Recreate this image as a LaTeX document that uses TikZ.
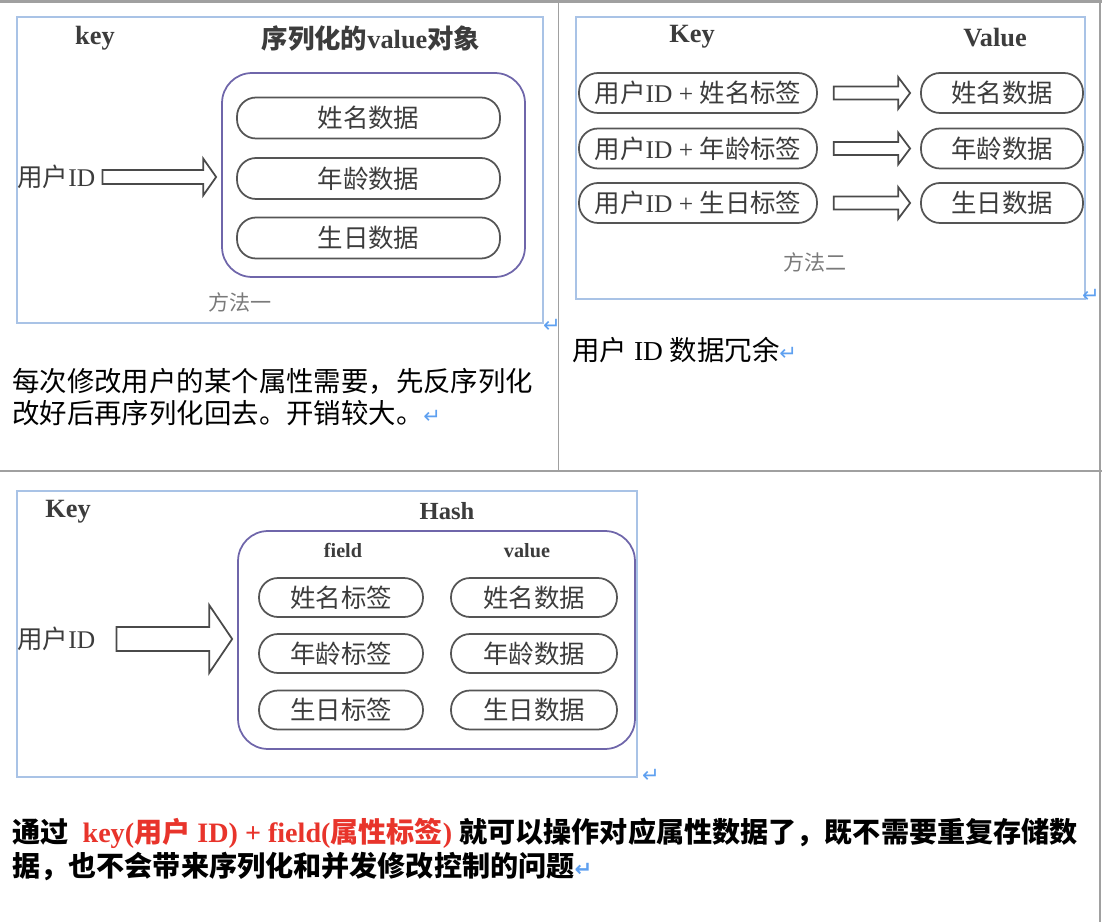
\documentclass[tikz,border=0pt]{standalone}
\usepackage{fontspec}
\setmainfont{Liberation Serif}
\newfontfamily\cjk{Noto Sans CJK SC}
\newfontfamily\symfont{DejaVu Sans}
\usetikzlibrary{calc}

\definecolor{framecol}{HTML}{A9C3E6}
\definecolor{boxcol}{HTML}{6F66AA}
\definecolor{pillcol}{HTML}{555555}
\definecolor{labelcol}{HTML}{3C3C3C}
\definecolor{captioncol}{HTML}{7A7A7A}
\definecolor{arrowcol}{HTML}{4A4A4A}
\definecolor{tablecol}{HTML}{A0A0A0}
\definecolor{retcol}{HTML}{5EA0F0}
\definecolor{redcol}{HTML}{E8342B}

\newcommand{\zh}[1]{{\cjk #1}}
\newcommand{\retmark}{{\symfont\color{retcol}\fontsize{12}{12}\selectfont ↵}}

% hollow block arrow: start, tip, shaft half, head half, head length
\newcommand{\fatarrow}[5]{%
  \draw[arrowline] ($(#1)+(0,-#3)$) -- ($(#1 -| #2)+(-#5,-#3)$)
    -- ($(#1 -| #2)+(-#5,-#4)$) -- (#1 -| #2) -- ($(#1 -| #2)+(-#5,#4)$)
    -- ($(#1 -| #2)+(-#5,#3)$) -- ($(#1)+(0,#3)$) -- cycle;
}

\tikzset{
  tableline/.style={draw=tablecol, line width=1.2pt},
  frame/.style={draw=framecol, line width=1.1pt},
  valbox/.style={draw=boxcol, line width=1pt, rounded corners=0.6cm},
  pill/.style={draw=pillcol, line width=1pt, rounded corners=0.38cm, inner sep=0pt,
    minimum height=0.82cm, text=labelcol, font=\fontsize{14.5}{14.5}\selectfont},
  heading/.style={text=labelcol, inner sep=0pt, font=\bfseries\fontsize{15}{15}\selectfont},
  subhead/.style={text=labelcol, inner sep=0pt, font=\bfseries\fontsize{11.5}{11.5}\selectfont},
  idlabel/.style={text=labelcol, inner sep=0pt, anchor=west, font=\fontsize{14.5}{14.5}\selectfont},
  caption/.style={text=captioncol, inner sep=0pt, font=\cjk\fontsize{12}{12}\selectfont},
  retnode/.style={text=retcol, inner sep=0pt, font=\symfont\fontsize{12}{12}\selectfont},
  body/.style={anchor=base west, inner sep=0pt, font=\fontsize{15.6}{18}\selectfont},
  boldbody/.style={body, font=\bfseries\fontsize{16}{18}\selectfont},
  arrowline/.style={draw=arrowcol, line width=1pt, fill=white, line join=miter}
}

\begin{document}
\begin{tikzpicture}[x=0.02cm, y=-0.02cm]
\useasboundingbox (0,0) rectangle (1102,922);

% Table rules
\draw[tableline] (0,1.5) -- (1102,1.5);
\draw[tableline, line width=0.9pt] (558.5,0) -- (558.5,471);
\draw[tableline, line width=1.7pt] (0,471) -- (1102,471);
\draw[tableline] (1100,0) -- (1100,922);

% ---------- Method one
\draw[frame] (17,17) rectangle (543,323);
\node[heading] (key1) at (95,38) {key};
\node[heading] (obj1) at (371,38) {\zh{序列化的}value\zh{对象}};
\node[valbox, minimum width=6.06cm, minimum height=4.08cm] (valbox1) at (373.5,175) {};
\node[pill, minimum width=5.26cm] (name1) at (368.5,118) {\zh{姓名数据}};
\node[pill, minimum width=5.26cm] (age1) at (368.5,178.5) {\zh{年龄数据}};
\node[pill, minimum width=5.26cm] (birth1) at (368.5,238) {\zh{生日数据}};
\node[idlabel] (uid1) at (17,177) {\zh{用户}ID};
\coordinate (a1s) at ($(uid1.east)+(7,0)$);
\coordinate (a1e) at ($(valbox1.west)+(-5,0)$);
\fatarrow{a1s}{a1e}{7}{18.5}{13}
\node[caption] (m1) at (240,302) {方法一};
\node[retnode] (r1) at (552,326) {↵};

\node[body] (txt1) at (12,391) {\zh{每次修改用户的某个属性需要，先反序列化}};
\node[body] (txt1b) at (12,423) {\zh{改好后再序列化回去。开销较大。}\retmark};

% ---------- Method two
\draw[frame] (576,17) rectangle (1085,299);
\node[heading] (key2) at (692,37) {Key};
\node[heading] (value2) at (995,38) {Value};
\foreach \i/\lab/\y in {1/姓名/93, 2/年龄/148.5, 3/生日/203}{
  \node[pill, minimum width=4.76cm, minimum height=0.8cm] (k2\i) at (698,\y)
    {\zh{用户}ID + \zh{\lab 标签}};
  \node[pill, minimum width=3.24cm, minimum height=0.8cm] (v2\i) at (1002,\y)
    {\zh{\lab 数据}};
  \coordinate (a2\i s) at ($(k2\i.east)+(16,0)$);
  \coordinate (a2\i e) at ($(v2\i.west)+(-10,0)$);
  \fatarrow{a2\i s}{a2\i e}{6.5}{16}{12}
}
\node[caption] (m2) at (815,262) {方法二};
\node[retnode] (r2) at (1091,296) {↵};

\node[body] (txt2) at (572,360) {\zh{用户} ID \zh{数据冗余}\retmark};

% ---------- Hash
\draw[frame] (17,491) rectangle (637,777);
\node[heading] (key3) at (68,512) {Key};
\node[heading, font=\bfseries\fontsize{14}{14}\selectfont] (hash3) at (447,511) {Hash};
\node[valbox, minimum width=7.94cm, minimum height=4.36cm] (hashbox3) at (436.5,640) {};
\node[subhead] (field3) at (343,550) {field};
\node[subhead] (fvalue3) at (527,551) {value};
\foreach \i/\lab/\y in {1/姓名/597.5, 2/年龄/653.5, 3/生日/710}{
  \node[pill, minimum width=3.28cm, minimum height=0.78cm] (f3\i) at (341,\y) {\zh{\lab 标签}};
  \node[pill, minimum width=3.32cm, minimum height=0.78cm] (v3\i) at (534,\y) {\zh{\lab 数据}};
}
\node[idlabel] (uid3) at (17,639) {\zh{用户}ID};
\coordinate (a3s) at ($(uid3.east)+(21,0)$);
\coordinate (a3e) at ($(hashbox3.west)+(-5,0)$);
\fatarrow{a3s}{a3e}{12}{34}{23}
\node[retnode] (r3) at (651,776) {↵};

\node[boldbody] (txt3) at (12,842)
  {\zh{通过}\ \ \textcolor{redcol}{key(\zh{用户} ID) + field(\zh{属性标签})} \zh{就可以操作对应属性数据了，既不需要重复存储数}};
\node[boldbody] (txt3b) at (12,876)
  {\zh{据，也不会带来序列化和并发修改控制的问题}\retmark};

\end{tikzpicture}
\end{document}
